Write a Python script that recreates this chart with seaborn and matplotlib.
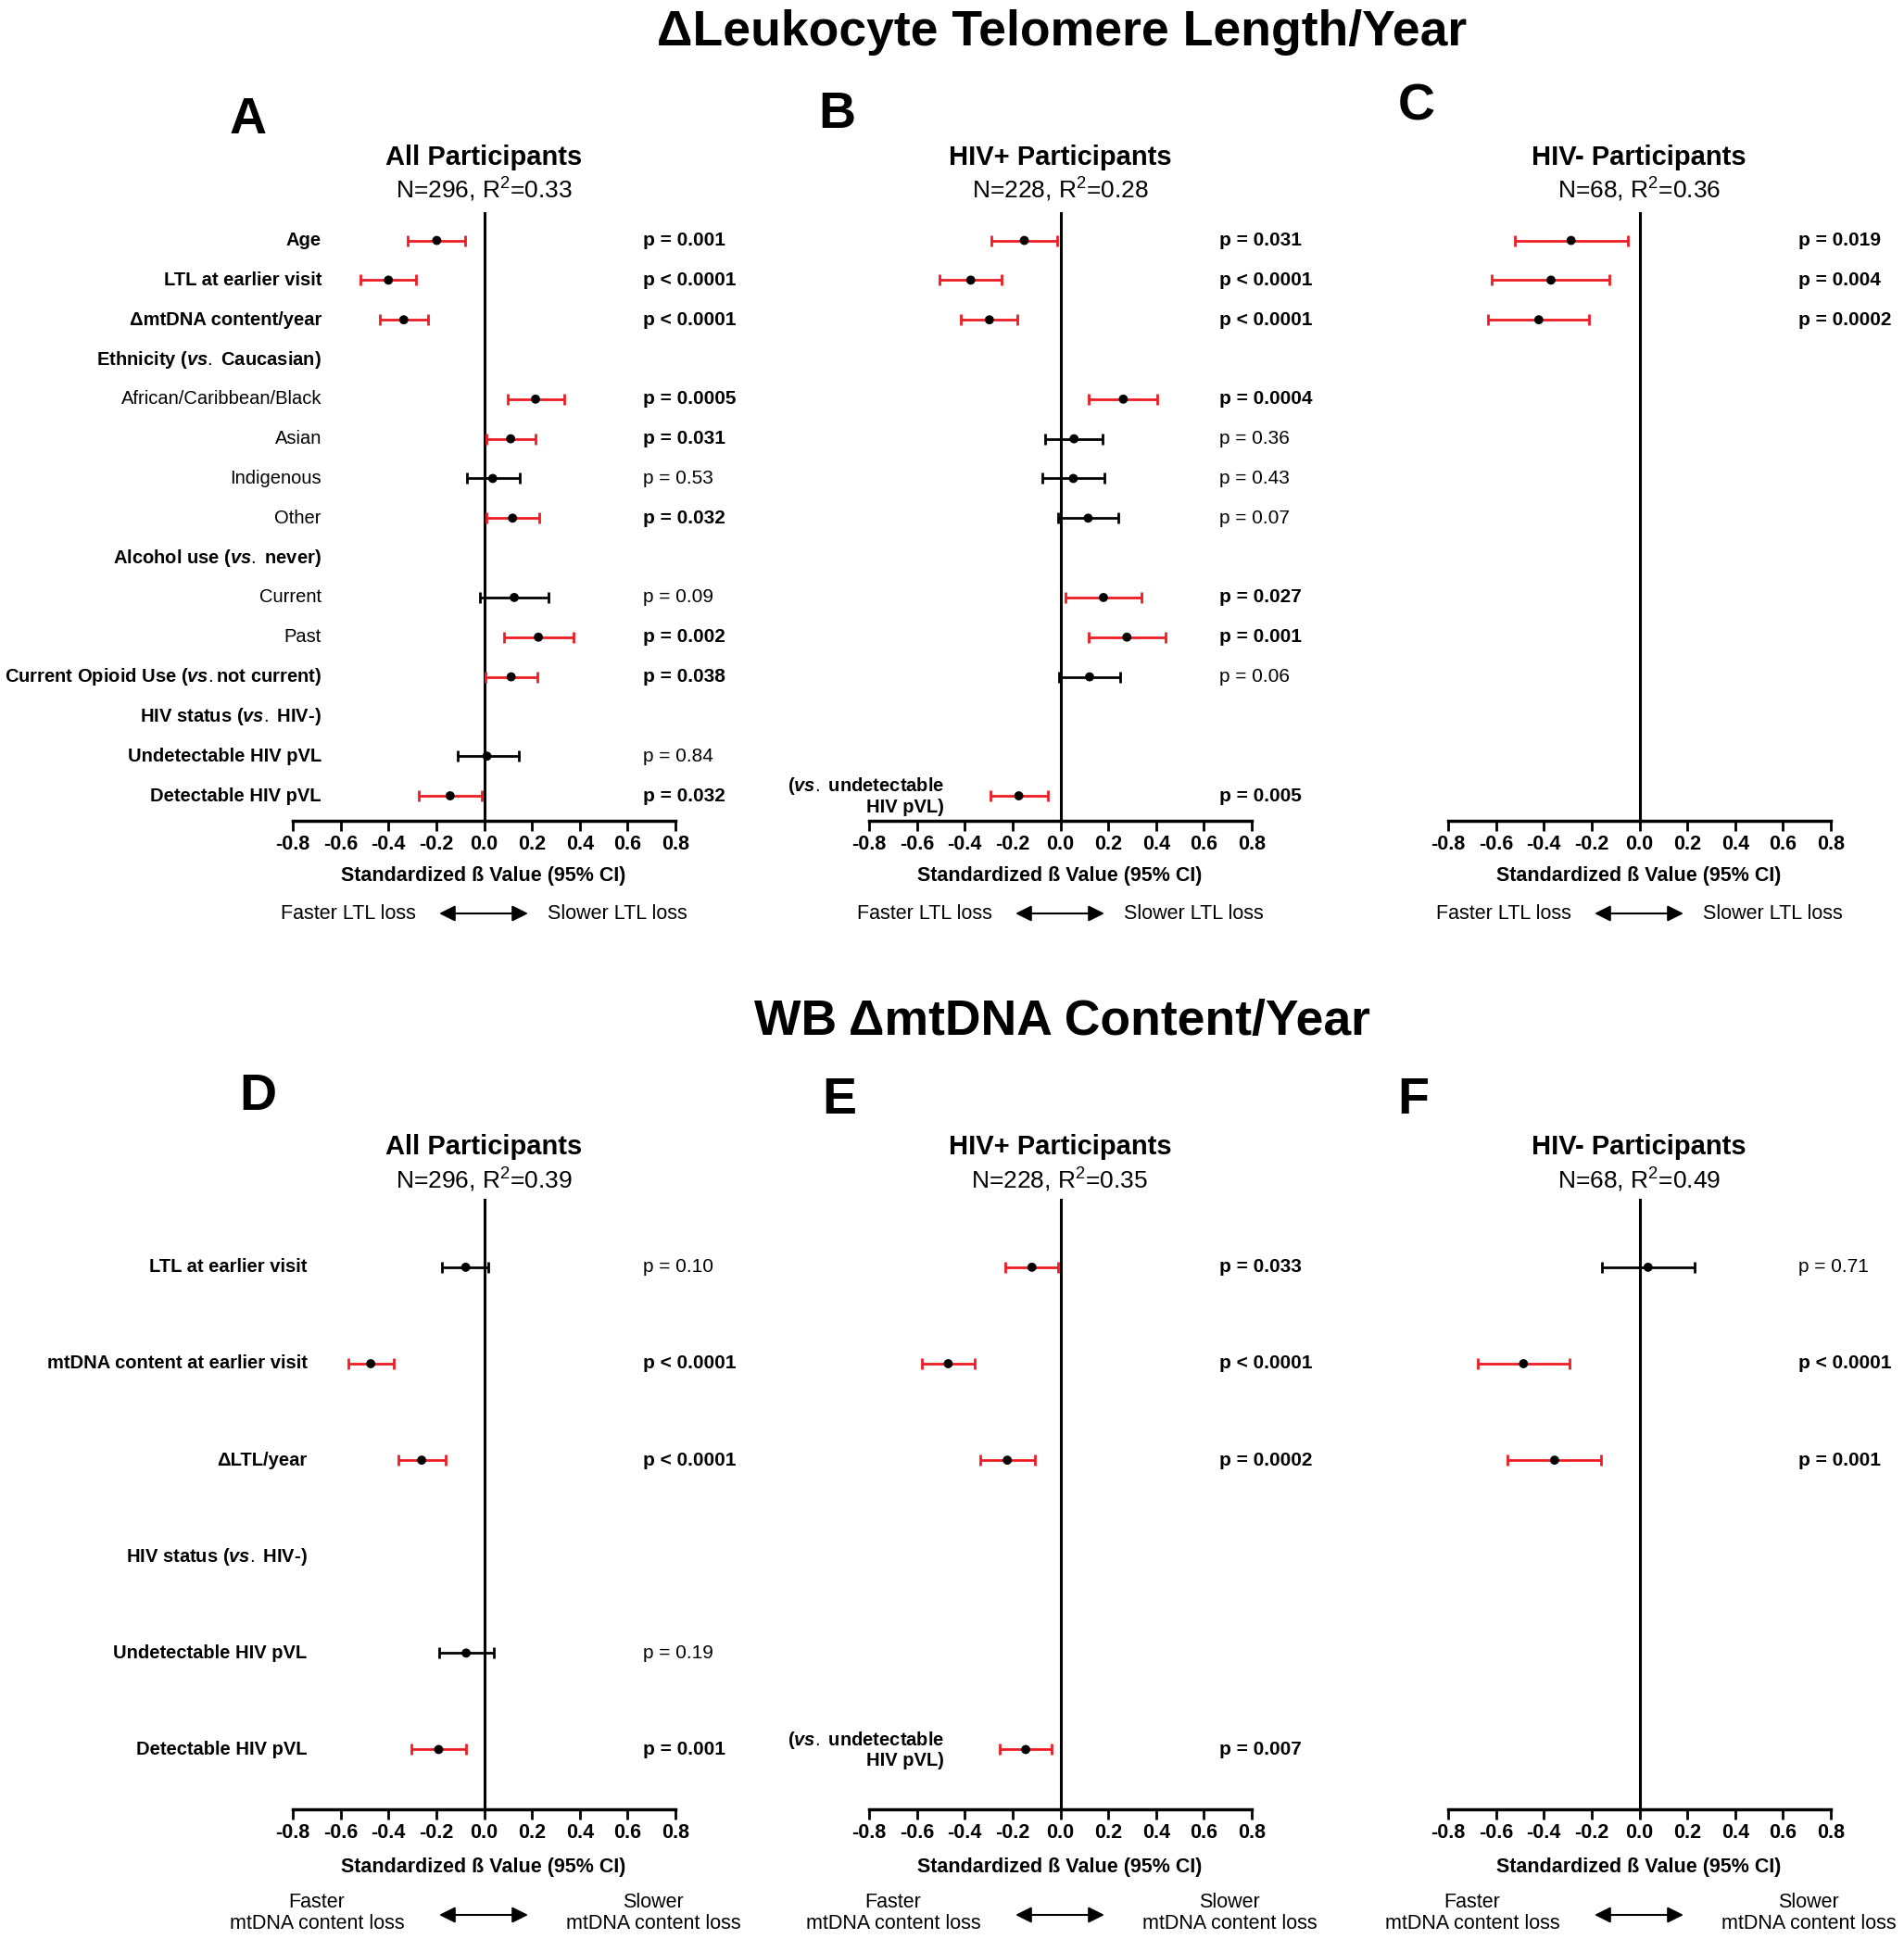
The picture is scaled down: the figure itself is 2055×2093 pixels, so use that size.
import numpy as np
import pandas as pd
import seaborn as sns
import matplotlib.pyplot as plt

# row labels
top_rows = [
    'Age', 'LTL at earlier visit', 'ΔmtDNA content/year',
    r'Ethnicity ($\it{vs.}$ Caucasian)', 'African/Caribbean/Black', 'Asian',
    'Indigenous', 'Other', r'Alcohol use ($\it{vs.}$ never)', 'Current', 'Past',
    r'Current Opioid Use ($\it{vs.}$not current)', r'HIV status ($\it{vs.}$ HIV-)',
    'Undetectable HIV pVL', 'Detectable HIV pVL'
]
top_bold = [True, True, True, True, False, False, False, False,
            True, False, False, True, True, True, True]
bottom_rows = [
    'LTL at earlier visit', 'mtDNA content at earlier visit', 'ΔLTL/year',
    r'HIV status ($\it{vs.}$ HIV-)', 'Undetectable HIV pVL', 'Detectable HIV pVL'
]
vs_label = '(' + r'$\it{vs.}$' + ' undetectable\nHIV pVL)'

xticks = [-0.8, -0.6, -0.4, -0.2, 0.0, 0.2, 0.4, 0.6, 0.8]
xtick_labels = ['-0.8', '-0.6', '-0.4', '-0.2', '0.0', '0.2', '0.4', '0.6', '0.8']

# A - all participants, LTL
a_beta = [-0.198, -0.400, -0.336, None, 0.215, 0.111, 0.036, 0.119, None, 0.126, 0.227, 0.113, None, 0.012, -0.142]
a_lo = [-0.320, -0.516, -0.437, None, 0.097, 0.010, -0.071, 0.010, None, -0.016, 0.083, 0.006, None, -0.111, -0.273]
a_hi = [-0.081, -0.284, -0.235, None, 0.336, 0.215, 0.148, 0.229, None, 0.269, 0.375, 0.223, None, 0.144, -0.010]
a_p = ['p = 0.001', 'p < 0.0001', 'p < 0.0001', None, 'p = 0.0005', 'p = 0.031', 'p = 0.53', 'p = 0.032',
       None, 'p = 0.09', 'p = 0.002', 'p = 0.038', None, 'p = 0.84', 'p = 0.032']

# B - HIV+, LTL
b_beta = [-0.151, -0.375, -0.297, None, 0.263, 0.057, 0.054, 0.116, None, 0.180, 0.278, 0.122, None, None, -0.174]
b_lo = [-0.290, -0.506, -0.416, None, 0.118, -0.063, -0.076, -0.009, None, 0.020, 0.118, -0.005, None, None, -0.294]
b_hi = [-0.012, -0.245, -0.179, None, 0.404, 0.176, 0.183, 0.242, None, 0.339, 0.440, 0.248, None, None, -0.054]
b_p = ['p = 0.031', 'p < 0.0001', 'p < 0.0001', None, 'p = 0.0004', 'p = 0.36', 'p = 0.43', 'p = 0.07',
       None, 'p = 0.027', 'p = 0.001', 'p = 0.06', None, None, 'p = 0.005']

# C - HIV-, LTL
c_beta = [-0.286, -0.370, -0.421]
c_lo = [-0.523, -0.618, -0.632]
c_hi = [-0.047, -0.124, -0.211]
c_p = ['p = 0.019', 'p = 0.004', 'p = 0.0002']

# D - all participants, mtDNA
d_beta = [-0.077, -0.474, -0.261, None, -0.075, -0.190]
d_lo = [-0.176, -0.569, -0.358, None, -0.186, -0.304]
d_hi = [0.016, -0.379, -0.160, None, 0.040, -0.077]
d_p = ['p = 0.10', 'p < 0.0001', 'p < 0.0001', None, 'p = 0.19', 'p = 0.001']

# E - HIV+, mtDNA
e_beta = [-0.119, -0.469, -0.222, None, None, -0.145]
e_lo = [-0.231, -0.581, -0.336, None, None, -0.254]
e_hi = [-0.008, -0.359, -0.107, None, None, -0.036]
e_p = ['p = 0.033', 'p < 0.0001', 'p = 0.0002', None, None, 'p = 0.007']

# F - HIV-, mtDNA
f_beta = [0.036, -0.485, -0.355]
f_lo = [-0.158, -0.677, -0.552]
f_hi = [0.230, -0.294, -0.159]
f_p = ['p = 0.71', 'p < 0.0001', 'p = 0.001']

titles = ['All Participants', 'HIV+ Participants', 'HIV- Participants']
top_sub = [r'N=296, R$^2$=0.33', r'N=228, R$^2$=0.28', r'N=68, R$^2$=0.36']
bottom_sub = [r'N=296, R$^2$=0.39', r'N=228, R$^2$=0.35', r'N=68, R$^2$=0.49']

sns.set_theme(style='ticks', rc={'text.color': 'black', 'axes.labelcolor': 'black',
                                 'xtick.color': 'black', 'axes.edgecolor': 'black'})
plt.rcParams['font.family'] = ['Liberation Sans', 'DejaVu Sans']
plt.rcParams['mathtext.fontset'] = 'custom'
plt.rcParams['mathtext.rm'] = 'Liberation Sans'
plt.rcParams['mathtext.it'] = 'Liberation Sans:italic:bold'
plt.rcParams['mathtext.bf'] = 'Liberation Sans:bold'
plt.rcParams['axes.unicode_minus'] = False

W, H = 2055, 2093
fig = plt.figure(figsize=(W / 100, H / 100), dpi=100)


def fx(px):
    return px / W


def fy(py):
    return 1 - py / H


def draw_panel(left, top, bottom, beta, lo, hi, pvals, ylim):
    ax = fig.add_axes([fx(left), fy(bottom), 413 / W, (bottom - top) / H])
    df = pd.DataFrame({'row': np.arange(len(beta)), 'beta': beta, 'lo': lo, 'hi': hi, 'p': pvals}).dropna()
    df['sig'] = df['p'].str.split().str[-1].astype(float) < 0.05
    for sig, color in [(False, 'black'), (True, '#ee1c25')]:
        d = df[df['sig'] == sig]
        ax.errorbar(d['beta'], d['row'], xerr=[d['beta'] - d['lo'], d['hi'] - d['beta']],
                    fmt='none', ecolor=color, elinewidth=2, capsize=4, capthick=2, zorder=3)
    sns.scatterplot(data=df, x='beta', y='row', color='black', s=50, edgecolor='none',
                    zorder=4, ax=ax, legend=False)
    for _, r in df.iterrows():
        ax.text(0.665, r['row'], r['p'], ha='left', va='center', fontsize=15,
                fontweight='bold' if r['sig'] else 'normal', clip_on=False)
    ax.set_xlim(-0.8, 0.8)
    ax.set_ylim(*ylim)
    ax.set_xlabel('')
    ax.set_ylabel('')
    ax.set_yticks([])
    ax.set_xticks(xticks, labels=xtick_labels)
    for lab in ax.get_xticklabels():
        lab.set_fontweight('bold')
    ax.tick_params(axis='x', direction='out', length=8, width=2, labelsize=15.5, pad=3, color='black')
    ax.spines['top'].set_visible(False)
    ax.spines['right'].set_visible(False)
    ax.spines['left'].set_position(('data', 0))
    ax.spines['left'].set_linewidth(2.2)
    ax.spines['bottom'].set_linewidth(2.5)
    return ax


lefts = [316, 938, 1563]
zeros = [522, 1144, 1769]

# top row
top_data = [(a_beta, a_lo, a_hi, a_p), (b_beta, b_lo, b_hi, b_p), (c_beta, c_lo, c_hi, c_p)]
top_axes = []
for i, (be, lo, hi, p) in enumerate(top_data):
    ax = draw_panel(lefts[i], 230, 886, be, lo, hi, p, (14.63, -0.69))
    top_axes.append(ax)

for i, lab in enumerate(top_rows):
    top_axes[0].text(-0.68, i, lab, ha='right', va='center', fontsize=14.5,
                     fontweight='bold' if top_bold[i] else 'normal')
top_axes[1].text(-0.485, 14, vs_label, ha='right', va='center', fontsize=14.5,
                 fontweight='bold', multialignment='right', linespacing=1.1)

# bottom row
bottom_data = [(d_beta, d_lo, d_hi, d_p), (e_beta, e_lo, e_hi, e_p), (f_beta, f_lo, f_hi, f_p)]
bottom_axes = []
for i, (be, lo, hi, p) in enumerate(bottom_data):
    ax = draw_panel(lefts[i], 1295, 1953, be, lo, hi, p, (5.62, -0.70))
    bottom_axes.append(ax)

for i, lab in enumerate(bottom_rows):
    bottom_axes[0].text(-0.74, i, lab, ha='right', va='center', fontsize=14.5, fontweight='bold')
bottom_axes[1].text(-0.485, 5, vs_label, ha='right', va='center', fontsize=14.5,
                    fontweight='bold', multialignment='right', linespacing=1.1)

# titles and labels
fig.text(fx(1146), fy(35), 'ΔLeukocyte Telomere Length/Year', ha='center', va='center',
         fontsize=38.5, fontweight='bold')
fig.text(fx(1146), fy(1103), 'WB ΔmtDNA Content/Year', ha='center', va='center',
         fontsize=38.5, fontweight='bold')

letters_top = [('A', 268, 130), ('B', 903, 124), ('C', 1529, 116)]
letters_bottom = [('D', 278, 1184), ('E', 906, 1188), ('F', 1525, 1188)]
for lt, x, y in letters_top + letters_bottom:
    fig.text(fx(x), fy(y), lt, ha='center', va='center', fontsize=40, fontweight='bold')

for i in range(3):
    z = zeros[i]
    fig.text(fx(z), fy(170), titles[i], ha='center', va='center', fontsize=21, fontweight='bold')
    fig.text(fx(z), fy(205), top_sub[i], ha='center', va='center', fontsize=19)
    fig.text(fx(z), fy(1238), titles[i], ha='center', va='center', fontsize=21, fontweight='bold')
    fig.text(fx(z), fy(1274), bottom_sub[i], ha='center', va='center', fontsize=19)

    fig.text(fx(z), fy(946), 'Standardized ß Value (95% CI)', ha='center', va='center',
             fontsize=15.5, fontweight='bold')
    fig.text(fx(z), fy(2015), 'Standardized ß Value (95% CI)', ha='center', va='center',
             fontsize=15.5, fontweight='bold')

    fig.text(fx(z - 146), fy(986), 'Faster LTL loss', ha='center', va='center', fontsize=15.5)
    fig.text(fx(z + 144), fy(986), 'Slower LTL loss', ha='center', va='center', fontsize=15.5)
    fig.text(fx(z - 180), fy(2065), 'Faster\nmtDNA content loss', ha='center', va='center',
             fontsize=15.5, linespacing=1.1)
    fig.text(fx(z + 183), fy(2065), 'Slower\nmtDNA content loss', ha='center', va='center',
             fontsize=15.5, linespacing=1.1)

    for y in [986, 2067]:
        top_axes[i].annotate('', xy=(fx(z + 48), fy(y)), xytext=(fx(z - 48), fy(y)),
                             xycoords='figure fraction', textcoords='figure fraction',
                             annotation_clip=False,
                             arrowprops=dict(arrowstyle='<|-|>', color='black', lw=1.5,
                                             mutation_scale=26, shrinkA=0, shrinkB=0))

plt.savefig('out.png', dpi=100)
